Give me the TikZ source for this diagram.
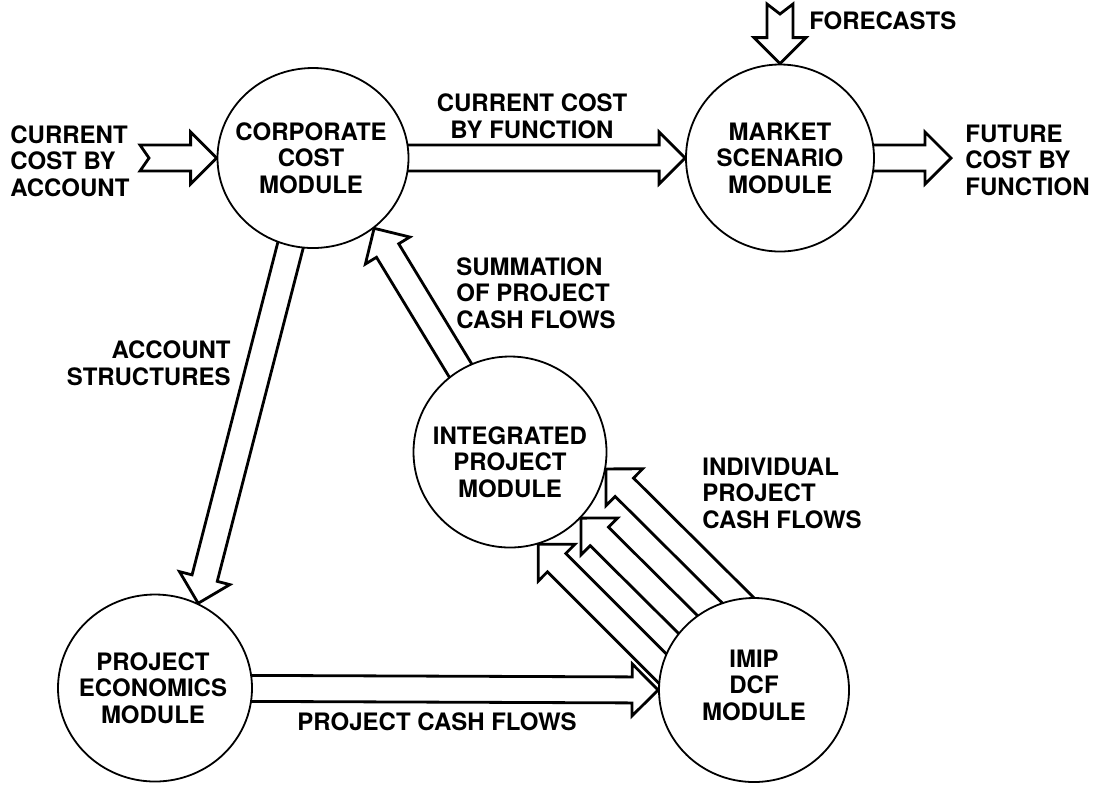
\documentclass[tikz,border=0pt]{standalone}
\usepackage{fontspec}
\setmainfont{TeX Gyre Heros}
\usetikzlibrary{calc,shapes.geometric,backgrounds}
\tikzset{every node/.style={align=center}, font=\fontsize{12}{13.25}\selectfont\bfseries}

\newcommand{\shaftw}{6.5pt}
\newcommand{\headw}{13pt}
\newcommand{\headlen}{13pt}
% hollow block arrow: [notch] {tail} {tip}
\newcommand{\fatarrow}[3][0pt]{%
  \coordinate (fa-t) at (#2);
  \coordinate (fa-p) at (#3);
  \coordinate (fa-b) at ($(fa-p)!\headlen!(fa-t)$);
  \draw[fatline] ($(fa-t)!\shaftw!90:(fa-p)$) -- ($(fa-b)!\shaftw!90:(fa-p)$)
    -- ($(fa-b)!\headw!90:(fa-p)$) -- (fa-p) -- ($(fa-b)!\headw!-90:(fa-p)$)
    -- ($(fa-b)!\shaftw!-90:(fa-p)$) -- ($(fa-t)!\shaftw!-90:(fa-p)$)
    -- ($(fa-t)!#1!(fa-p)$) -- cycle;}

\begin{document}
\begin{tikzpicture}[x=0.5pt, y=-0.5pt,
    module/.style={ellipse, draw, line width=0.9pt, fill=white, inner sep=0pt},
    fatline/.style={line width=1.4pt, line join=miter},
    lbl/.style={inner sep=0pt}]
  \useasboundingbox (0,0) rectangle (1102,784);

  \node [module, minimum width=95.5pt, minimum height=90pt, label={[xshift=-1pt]center:{CORPORATE\\COST\\MODULE}}] (corp) at (313,158) {};
  \node [module, minimum width=94pt, minimum height=93.5pt, label=center:{MARKET\\SCENARIO\\MODULE}] (market) at (780,158) {};
  \node [module, minimum width=97pt, minimum height=93.5pt, label={[xshift=-1pt]center:{PROJECT\\ECONOMICS\\MODULE}}] (pe) at (155,688) {};
  \node [module, minimum width=96.5pt, minimum height=95.5pt, label={[yshift=-5pt]center:{INTEGRATED\\PROJECT\\MODULE}}] (integ) at (510,452) {};
  \node [module, minimum width=95pt, minimum height=92pt, label={[yshift=2.5pt]center:{IMIP\\DCF\\MODULE}}] (imip) at (754,690) {};

  \coordinate (costin) at (140,158);
  \coordinate (fcin) at (780,4);
  \coordinate (costout) at (951,158);

  \node [lbl, align=left, anchor=west] (inlbl) at (10,161) {CURRENT\\COST BY\\ACCOUNT};
  \node [lbl] (funclbl) at (532,116) {CURRENT COST\\BY FUNCTION};
  \node [lbl, anchor=west] (fclbl) at (809,21) {FORECASTS};
  \node [lbl, align=left, anchor=west] (outlbl) at (965,160) {FUTURE\\COST BY\\FUNCTION};
  \node [lbl, align=left, anchor=west] (sumlbl) at (456,293) {SUMMATION\\OF PROJECT\\CASH FLOWS};
  \node [lbl, align=right, anchor=east] (acclbl) at (231,363) {ACCOUNT\\STRUCTURES};
  \node [lbl, align=left, anchor=west] (indlbl) at (702,493) {INDIVIDUAL\\PROJECT\\CASH FLOWS};
  \node [lbl] (pcflbl) at (437,722) {PROJECT CASH FLOWS};

  \begin{pgfonlayer}{background}
    \fatarrow[4.5pt]{costin}{corp.west}
    \fatarrow{corp.center}{market.west}
    \fatarrow{market.center}{costout}
    \fatarrow[5pt]{fcin}{market.north}
    \fatarrow{corp.center}{pe.63}
    \fatarrow{integ.center}{corp.-49}
    \fatarrow{pe.center}{imip.west}
    \fatarrow{$(imip.center)+(37,-37)$}{integ.-10}
    \fatarrow{imip.center}{integ.-43}
    \fatarrow{$(imip.center)+(-35,35)$}{integ.-73}
  \end{pgfonlayer}
\end{tikzpicture}
\end{document}
